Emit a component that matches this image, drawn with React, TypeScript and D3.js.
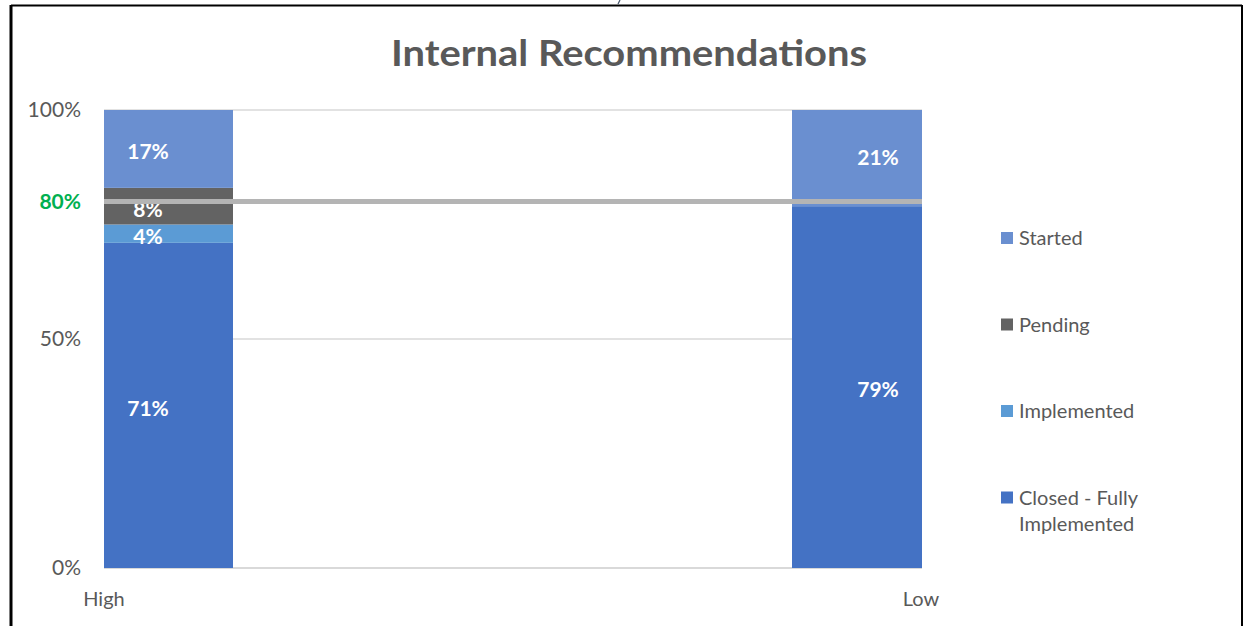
import React from "react";
import * as d3 from "d3";

const categories = ["High", "Low"];
const seriesNames = ["Closed - Fully Implemented", "Implemented", "Pending", "Started"];
const closedValues = [71, 79];
const implementedValues = [4, 0];
const pendingValues = [8, 0];
const startedValues = [17, 21];
const yTicks = [0, 50, 100];
const targetValue = 80;
const legendOrder = ["Started", "Pending", "Implemented", "Closed - Fully Implemented"];

const colors: Record<string, string> = {
  "Closed - Fully Implemented": "#4472c4",
  Implemented: "#5b9bd5",
  Pending: "#636363",
  Started: "#6a8fd0",
};

const W = 1248;
const H = 626;
const plot = { left: 104, right: 922, top: 110, bottom: 568 };
const FONT = "Lato, 'Open Sans', sans-serif";

export default function App() {
  const rows = categories.map((c, i) => ({
    cat: c,
    "Closed - Fully Implemented": closedValues[i],
    Implemented: implementedValues[i],
    Pending: pendingValues[i],
    Started: startedValues[i],
  }));
  const stacked = d3.stack<any>().keys(seriesNames)(rows);
  const x = d3.scalePoint<string>().domain(categories).range([plot.left, plot.right - 1]);
  const y = d3.scaleLinear().domain([0, 100]).range([plot.bottom, plot.top]);
  const barW = 258;
  const labelOffset = (i: number) => (i === 0 ? 44 : -43);

  return (
    <svg width={W} height={H} style={{ position: "absolute", left: 0, top: 0, background: "#fff" }}>
      <defs>
        <clipPath id="plotClip">
          <rect x={plot.left} y={plot.top - 1} width={plot.right - plot.left} height={plot.bottom - plot.top + 2} />
        </clipPath>
      </defs>
      {/* frame */}
      <line x1={11} x2={1242} y1={5.5} y2={5.5} stroke="#000" strokeWidth={2} />
      <line x1={11} x2={11} y1={5} y2={H} stroke="#000" strokeWidth={3} />
      <line x1={1242} x2={1242} y1={5} y2={H} stroke="#000" strokeWidth={2} />
      <line x1={618} y1={4} x2={620} y2={0} stroke="#44546a" strokeWidth={1.2} />

      <text x={629} y={66} textAnchor="middle" fontSize={37} fontWeight={700} fill="#595959" fontFamily={FONT}
        textLength={476} lengthAdjust="spacingAndGlyphs">
        Internal Recommendations
      </text>

      {/* gridlines */}
      {yTicks.map((t) => (
        <line key={t} x1={plot.left} x2={plot.right} y1={y(t)} y2={y(t)} stroke="#d9d9d9" strokeWidth={t === 0 ? 2 : 1.5} />
      ))}
      {yTicks.map((t) => (
        <text key={"l" + t} x={81} y={y(t)} dy="0.35em" textAnchor="end" fontSize={21} fill="#595959" fontFamily={FONT}>
          {t}%
        </text>
      ))}

      {/* bars */}
      <g clipPath="url(#plotClip)">
        {stacked.map((s) =>
          s.map((d, i) => (
            <rect
              key={s.key + i}
              x={(x(categories[i]) as number) - barW / 2}
              y={y(d[1])}
              width={barW}
              height={Math.max(0, y(d[0]) - y(d[1]))}
              fill={colors[s.key]}
            />
          ))
        )}
      </g>

      {/* data labels */}
      {stacked.map((s) =>
        s.map((d, i) =>
          d[1] - d[0] > 0 ? (
            <text
              key={"t" + s.key + i}
              x={(x(categories[i]) as number) + labelOffset(i)}
              y={y((d[0] + d[1]) / 2) + (s.key === "Started" && i === 1 ? 0 : 3)}
              dy="0.35em"
              textAnchor="middle"
              fontSize={21}
              fontWeight={700}
              fill="#fff"
              fontFamily={FONT}
            >
              {Math.round(d[1] - d[0])}%
            </text>
          ) : null
        )
      )}

      {/* target line */}
      <line x1={plot.left} x2={plot.right} y1={y(targetValue)} y2={y(targetValue)} stroke="#b4b4b4" strokeWidth={5} />
      <text x={81} y={y(targetValue)} dy="0.35em" textAnchor="end" fontSize={21} fontWeight={700} fill="#00b050" fontFamily={FONT}>
        {targetValue}%
      </text>

      {/* category labels */}
      {categories.map((c) => (
        <text key={c} x={x(c) as number} y={599} dy="0.35em" textAnchor="middle" fontSize={20} fill="#595959" fontFamily={FONT}>
          {c}
        </text>
      ))}

      {/* legend */}
      {legendOrder.map((name, i) => {
        const ly = 238 + i * 86.5;
        const lines = name === "Closed - Fully Implemented" ? ["Closed - Fully", "Implemented"] : [name];
        return (
          <g key={name}>
            <rect x={1001} y={ly - 6} width={12} height={12} fill={colors[name]} />
            {lines.map((ln, j) => (
              <text key={j} x={1019} y={ly + j * 26} dy="0.35em" fontSize={20} fill="#595959" fontFamily={FONT}>
                {ln}
              </text>
            ))}
          </g>
        );
      })}
    </svg>
  );
}
